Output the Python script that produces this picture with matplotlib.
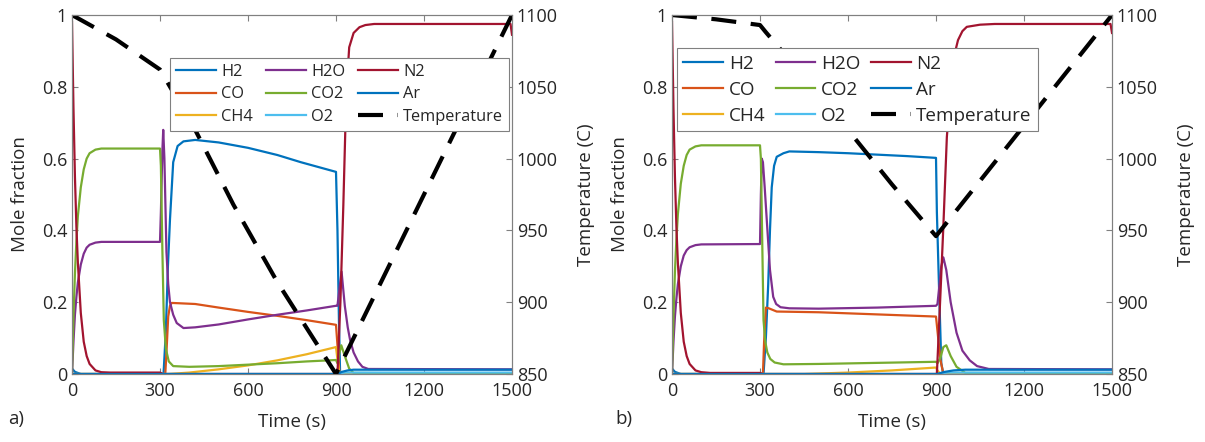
import matplotlib
matplotlib.use("Agg")
import matplotlib.pyplot as plt

plt.rcParams["font.family"] = ["Open Sans", "DejaVu Sans"]
plt.rcParams["font.size"] = 13

# colores estilo MATLAB
colores = {
    "H2": "#0072BD", "CO": "#D95319", "CH4": "#EDB120", "H2O": "#7E2F8E",
    "CO2": "#77AC30", "O2": "#4DBEEE", "N2": "#A2142F", "Ar": "#0072BD",
}
especies = ["H2", "CO", "CH4", "H2O", "CO2", "O2", "N2", "Ar"]

# ---------------- panel a) ----------------
a_h2_t = [0, 10, 30, 312, 320, 327, 334, 345, 360, 380, 420, 500, 600, 700, 780, 900, 905, 910, 914, 1500]
a_h2 = [0.015, 0.006, 0.0, 0.0, 0.12, 0.3, 0.43, 0.59, 0.635, 0.648, 0.652, 0.645, 0.63, 0.61, 0.59, 0.563, 0.4, 0.15, 0.0, 0.0]

a_co_t = [0, 318, 322, 328, 334, 340, 420, 500, 600, 700, 800, 900, 905, 912, 1500]
a_co = [0, 0, 0.06, 0.16, 0.19, 0.198, 0.195, 0.185, 0.173, 0.162, 0.15, 0.137, 0.08, 0.0, 0.0]

a_ch4_t = [0, 330, 400, 500, 600, 700, 800, 900, 905, 912, 1500]
a_ch4 = [0, 0, 0.004, 0.013, 0.024, 0.038, 0.055, 0.075, 0.04, 0.0, 0.0]

a_h2o_t = [0, 5, 10, 15, 20, 30, 40, 50, 60, 80, 100, 300, 303, 308, 311, 315, 322, 328, 334, 345, 357, 380, 420, 500,
           600, 700, 800, 900, 905, 912, 919, 930, 940, 948, 960, 975, 990, 1010, 1500]
a_h2o = [0, 0.09, 0.165, 0.215, 0.255, 0.305, 0.335, 0.352, 0.36, 0.366, 0.368, 0.368, 0.45, 0.62, 0.68, 0.6, 0.34,
         0.25, 0.2, 0.165, 0.142, 0.128, 0.13, 0.138, 0.152, 0.165, 0.177, 0.19, 0.19, 0.24, 0.285, 0.19, 0.13, 0.095,
         0.06, 0.035, 0.02, 0.014, 0.013]

a_co2_t = [0, 5, 10, 15, 20, 30, 40, 50, 60, 80, 100, 300, 303, 308, 313, 320, 330, 345, 400, 500, 600, 700, 800, 900,
           905, 912, 918, 930, 945, 960, 1500]
a_co2 = [0, 0.16, 0.28, 0.37, 0.44, 0.52, 0.57, 0.6, 0.615, 0.625, 0.628, 0.628, 0.58, 0.35, 0.15, 0.07, 0.035, 0.022,
         0.02, 0.022, 0.026, 0.03, 0.035, 0.039, 0.03, 0.06, 0.08, 0.05, 0.015, 0.003, 0.0]

a_o2_t = [0, 905, 930, 1500]
a_o2 = [0, 0, 0.004, 0.004]

a_n2_t = [0, 5, 10, 15, 20, 30, 40, 50, 60, 80, 100, 130, 300, 310, 905, 915, 925, 935, 945, 960, 980, 1000, 1030,
          1495, 1500]
a_n2 = [0.98, 0.74, 0.55, 0.41, 0.31, 0.17, 0.09, 0.05, 0.028, 0.01, 0.005, 0.004, 0.004, 0.0, 0.0, 0.2, 0.47, 0.78,
        0.91, 0.95, 0.966, 0.972, 0.975, 0.975, 0.945]

a_ar_t = [0, 905, 920, 940, 960, 1500]
a_ar = [0, 0, 0.006, 0.01, 0.012, 0.012]

a_temp_t = [0, 150, 300, 420, 550, 700, 900, 1500]
a_temp = [1100, 1083, 1062, 1020, 968, 914, 850, 1100]

# ---------------- panel b) ----------------
b_h2_t = [0, 10, 30, 312, 320, 328, 334, 340, 348, 357, 380, 400, 500, 600, 700, 800, 900, 903, 910, 918, 925, 1500]
b_h2 = [0.015, 0.006, 0.0, 0.0, 0.1, 0.25, 0.4, 0.52, 0.58, 0.605, 0.615, 0.62, 0.618, 0.615, 0.611, 0.607, 0.602,
        0.45, 0.25, 0.03, 0.0, 0.0]

b_co_t = [0, 310, 314, 320, 330, 357, 500, 700, 900, 905, 915, 925, 1500]
b_co = [0, 0, 0.09, 0.185, 0.183, 0.174, 0.172, 0.166, 0.16, 0.12, 0.04, 0.0, 0.0]

b_ch4_t = [0, 450, 600, 750, 900, 905, 915, 1500]
b_ch4 = [0, 0, 0.004, 0.01, 0.018, 0.01, 0.0, 0.0]

b_h2o_t = [0, 5, 10, 15, 20, 30, 40, 50, 60, 80, 100, 300, 303, 306, 310, 316, 323, 334, 345, 355, 370, 400, 500,
           700, 900, 905, 912, 918, 925, 935, 950, 970, 990, 1015, 1040, 1080, 1500]
b_h2o = [0, 0.09, 0.16, 0.21, 0.25, 0.3, 0.33, 0.345, 0.353, 0.359, 0.361, 0.362, 0.5, 0.6, 0.59, 0.52, 0.43, 0.29,
         0.215, 0.195, 0.186, 0.183, 0.182, 0.185, 0.19, 0.195, 0.25, 0.3, 0.325, 0.29, 0.2, 0.115, 0.065, 0.038,
         0.022, 0.014, 0.013]

b_co2_t = [0, 5, 10, 15, 20, 30, 40, 50, 60, 80, 100, 300, 303, 308, 312, 318, 325, 335, 350, 380, 500, 700, 900,
           905, 915, 925, 935, 950, 970, 1000, 1500]
b_co2 = [0, 0.16, 0.285, 0.375, 0.445, 0.53, 0.58, 0.61, 0.625, 0.634, 0.637, 0.637, 0.6, 0.35, 0.15, 0.09, 0.06,
         0.042, 0.032, 0.027, 0.028, 0.031, 0.034, 0.03, 0.045, 0.075, 0.08, 0.05, 0.02, 0.003, 0.0]

b_o2_t = [0, 905, 940, 1500]
b_o2 = [0, 0, 0.004, 0.004]

b_n2_t = [0, 5, 10, 15, 20, 30, 40, 50, 60, 80, 100, 130, 300, 310, 903, 915, 925, 937, 950, 960, 975, 990, 1005,
          1050, 1100, 1495, 1500]
b_n2 = [0.98, 0.74, 0.55, 0.41, 0.31, 0.17, 0.09, 0.05, 0.028, 0.01, 0.005, 0.003, 0.003, 0.0, 0.0, 0.22, 0.41, 0.66,
        0.8, 0.88, 0.93, 0.955, 0.967, 0.973, 0.975, 0.975, 0.95]

b_ar_t = [0, 903, 930, 960, 1000, 1500]
b_ar = [0, 0, 0.006, 0.01, 0.012, 0.012]

b_temp_t = [0, 150, 300, 320, 450, 600, 750, 900, 1500]
b_temp = [1100, 1097, 1093, 1088, 1057, 1020, 982, 946, 1100]

paneles = [
    {
        "datos": {
            "H2": (a_h2_t, a_h2), "CO": (a_co_t, a_co), "CH4": (a_ch4_t, a_ch4), "H2O": (a_h2o_t, a_h2o),
            "CO2": (a_co2_t, a_co2), "O2": (a_o2_t, a_o2), "N2": (a_n2_t, a_n2), "Ar": (a_ar_t, a_ar),
        },
        "temp": (a_temp_t, a_temp),
        "rect": [72 / 1205, 1 - 374 / 442, 440 / 1205, 359 / 442],
        "leyenda": (0.223, 0.880), "ley_fs": 11.8, "ley_ls": 0.4, "ley_hl": 2.45, "ley_cs": 0.8,
        "letra": "a)", "letra_x": 8 / 1205,
    },
    {
        "datos": {
            "H2": (b_h2_t, b_h2), "CO": (b_co_t, b_co), "CH4": (b_ch4_t, b_ch4), "H2O": (b_h2o_t, b_h2o),
            "CO2": (b_co2_t, b_co2), "O2": (b_o2_t, b_o2), "N2": (b_n2_t, b_n2), "Ar": (b_ar_t, b_ar),
        },
        "temp": (b_temp_t, b_temp),
        "rect": [672 / 1205, 1 - 374 / 442, 440 / 1205, 359 / 442],
        "leyenda": (0.011, 0.908), "ley_fs": 13.6, "ley_ls": 0.42, "ley_hl": 2.1, "ley_cs": 0.55,
        "letra": "b)", "letra_x": 615 / 1205,
    },
]

gris = "#808080"
texto = "#262626"

fig = plt.figure(figsize=(12.05, 4.42), dpi=100)

for p in paneles:
    ax = fig.add_axes(p["rect"])
    lineas = []
    for esp in especies:
        t, v = p["datos"][esp]
        ln, = ax.plot(t, v, color=colores[esp], lw=1.6, label=esp)
        lineas.append(ln)
    ax.set_xlim(0, 1500)
    ax.set_ylim(0, 1)
    ax.set_xticks([0, 300, 600, 900, 1200, 1500])
    ax.set_yticks([0, 0.2, 0.4, 0.6, 0.8, 1])
    ax.set_yticklabels(["0", "0.2", "0.4", "0.6", "0.8", "1"])
    ax.set_xlabel("Time (s)", color=texto, fontsize=13.5)
    ax.set_ylabel("Mole fraction", color=texto, fontsize=13.5)
    ax.xaxis.set_label_coords(0.5, -0.11)
    ax.yaxis.set_label_coords(-0.098, 0.5)

    ax2 = ax.twinx()
    tt, tv = p["temp"]
    ln_t, = ax2.plot(tt, tv, color="black", lw=3, dashes=(6, 3.5), label="Temperature")
    ax2.set_ylim(850, 1100)
    ax2.set_yticks([850, 900, 950, 1000, 1050, 1100])
    ax2.set_ylabel("Temperature (C)", color=texto, fontsize=13.5)
    ax2.yaxis.set_label_coords(1.148, 0.5)

    for a in (ax, ax2):
        a.tick_params(direction="in", length=4, color=gris, labelcolor=texto, labelsize=13)
        for s in a.spines.values():
            s.set_color(gris)
            s.set_linewidth(0.8)
    ax.tick_params(top=True)
    ax.tick_params(axis="x", pad=6)

    leg = ax2.legend(lineas + [ln_t], especies + ["Temperature"], ncol=3, loc="upper left",
                     bbox_to_anchor=p["leyenda"], borderaxespad=0, fancybox=False, framealpha=1,
                     edgecolor=gris, handlelength=p["ley_hl"], handletextpad=0.3, columnspacing=p["ley_cs"],
                     labelspacing=p["ley_ls"], borderpad=0.35, fontsize=p["ley_fs"])
    leg.get_frame().set_linewidth(0.8)
    for txt in leg.get_texts():
        txt.set_color(texto)

    fig.text(p["letra_x"], 1 - 419 / 442, p["letra"], fontsize=13.5, color=texto, va="center")

fig.savefig("out.png", dpi=100)
